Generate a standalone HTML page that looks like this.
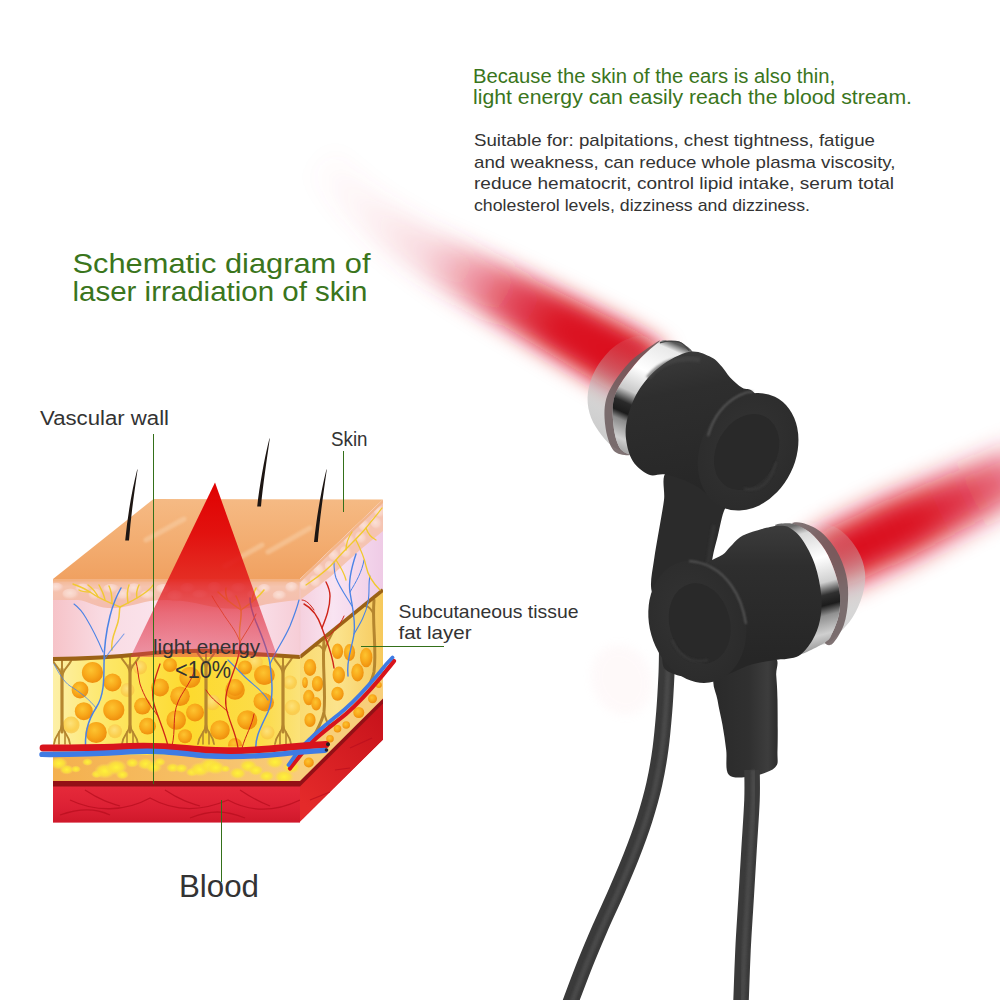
<!DOCTYPE html>
<html lang="en">
<head>
<meta charset="utf-8">
<title>Laser irradiation of skin</title>
<style>
html,body{margin:0;padding:0;background:#fff;}
body{width:1000px;height:1000px;overflow:hidden;position:relative;font-family:"Liberation Sans",sans-serif;}
svg{position:absolute;left:0;top:0;display:block;}
text{font-family:"Liberation Sans",sans-serif;}
.g{fill:#3a751c;}
.d{fill:#333;}
</style>
</head>
<body>
<svg width="1000" height="1000" viewBox="0 0 1000 1000">
<defs>
  <filter id="blur14" x="-30%" y="-60%" width="160%" height="220%"><feGaussianBlur stdDeviation="10.5"/></filter>
  <filter id="blur11" x="-40%" y="-100%" width="180%" height="300%"><feGaussianBlur stdDeviation="13"/></filter>
  <filter id="blur6" x="-30%" y="-30%" width="160%" height="160%"><feGaussianBlur stdDeviation="5"/></filter>
  <filter id="blur2"><feGaussianBlur stdDeviation="1.2"/></filter>
  <linearGradient id="beam1" gradientUnits="userSpaceOnUse" x1="623.5" y1="364.2" x2="298" y2="170">
    <stop offset="0" stop-color="#da0a1a" stop-opacity="1"/>
    <stop offset="0.2" stop-color="#da0a1a" stop-opacity="0.97"/>
    <stop offset="0.345" stop-color="#d9142a" stop-opacity="0.75"/>
    <stop offset="0.48" stop-color="#dc2a44" stop-opacity="0.42"/>
    <stop offset="0.6" stop-color="#e04a60" stop-opacity="0.2"/>
    <stop offset="0.78" stop-color="#e45a70" stop-opacity="0.08"/>
    <stop offset="1" stop-color="#e86a80" stop-opacity="0"/>
  </linearGradient>
  <linearGradient id="beam2" gradientUnits="userSpaceOnUse" x1="0" y1="0" x2="200" y2="0">
    <stop offset="0" stop-color="#da0a1a" stop-opacity="1"/>
    <stop offset="0.4" stop-color="#da0a1a" stop-opacity="0.97"/>
    <stop offset="0.7" stop-color="#d9142a" stop-opacity="0.8"/>
    <stop offset="1" stop-color="#dc2a44" stop-opacity="0.55"/>
  </linearGradient>
  
  <linearGradient id="topG" x1="0" y1="0" x2="0" y2="1">
    <stop offset="0" stop-color="#f5ba84"/><stop offset="0.5" stop-color="#f3ae72"/><stop offset="1" stop-color="#f0a161"/>
  </linearGradient>
  <linearGradient id="dermG" gradientUnits="userSpaceOnUse" x1="53" y1="0" x2="300" y2="0">
    <stop offset="0" stop-color="#f6c3c8"/><stop offset="0.2" stop-color="#f9dbe3"/><stop offset="0.5" stop-color="#fbe6ef"/><stop offset="0.85" stop-color="#f9dce6"/><stop offset="1" stop-color="#f6cdd6"/>
  </linearGradient>
  <linearGradient id="dermS" gradientUnits="userSpaceOnUse" x1="300" y1="0" x2="383" y2="0">
    <stop offset="0" stop-color="#f5d0de"/><stop offset="0.4" stop-color="#f9e4f2"/><stop offset="1" stop-color="#efcbe6"/>
  </linearGradient>
  <linearGradient id="epiG" x1="0" y1="0" x2="0" y2="1">
    <stop offset="0" stop-color="#f3b58f"/><stop offset="0.25" stop-color="#f5c4ae"/><stop offset="1" stop-color="#f4bcae"/>
  </linearGradient>
  <linearGradient id="fatG" gradientUnits="userSpaceOnUse" x1="53" y1="0" x2="300" y2="0">
    <stop offset="0" stop-color="#fdf0a8"/><stop offset="0.22" stop-color="#fde767"/><stop offset="0.55" stop-color="#fdda2e"/><stop offset="0.85" stop-color="#fcdc4a"/><stop offset="1" stop-color="#fbe27a"/>
  </linearGradient>
  <linearGradient id="fatS" gradientUnits="userSpaceOnUse" x1="300" y1="0" x2="383" y2="0">
    <stop offset="0" stop-color="#fadb72"/><stop offset="0.45" stop-color="#fbe38c"/><stop offset="1" stop-color="#f6c95c"/>
  </linearGradient>
  <linearGradient id="lowfatG" gradientUnits="userSpaceOnUse" x1="53" y1="0" x2="300" y2="0">
    <stop offset="0" stop-color="#f4b04e"/><stop offset="0.5" stop-color="#f6bd62"/><stop offset="1" stop-color="#f8cc7c"/>
  </linearGradient>
  <linearGradient id="musG" x1="0" y1="0" x2="0" y2="1">
    <stop offset="0" stop-color="#e62a3a"/><stop offset="0.6" stop-color="#dc2034"/><stop offset="1" stop-color="#cf182a"/>
  </linearGradient>
  <linearGradient id="musS" gradientUnits="userSpaceOnUse" x1="300" y1="800" x2="383" y2="720">
    <stop offset="0" stop-color="#e42a2a"/><stop offset="1" stop-color="#c9141c"/>
  </linearGradient>
  <radialGradient id="glob" cx="0.42" cy="0.38" r="0.65">
    <stop offset="0" stop-color="#fdc430"/><stop offset="0.55" stop-color="#f8a81a"/><stop offset="1" stop-color="#ee8c0c"/>
  </radialGradient>
  <radialGradient id="globp" cx="0.45" cy="0.4" r="0.6">
    <stop offset="0" stop-color="#fde27a"/><stop offset="0.7" stop-color="#fbd050"/><stop offset="1" stop-color="#f8c040" stop-opacity="0.6"/>
  </radialGradient>
  <radialGradient id="yblob" cx="0.5" cy="0.5" r="0.5">
    <stop offset="0" stop-color="#fff23a"/><stop offset="0.6" stop-color="#fbe23a" stop-opacity="0.85"/><stop offset="1" stop-color="#f9d65a" stop-opacity="0"/>
  </radialGradient>
  <radialGradient id="cell" cx="0.45" cy="0.4" r="0.6">
    <stop offset="0" stop-color="#fbe0d6"/><stop offset="0.6" stop-color="#f8d2c5"/><stop offset="1" stop-color="#f5c4b4" stop-opacity="0.2"/>
  </radialGradient>
  <linearGradient id="laserG" gradientUnits="userSpaceOnUse" x1="0" y1="482" x2="0" y2="657">
    <stop offset="0" stop-color="#e00000" stop-opacity="1"/>
    <stop offset="0.3" stop-color="#e10a0a" stop-opacity="0.95"/>
    <stop offset="0.55" stop-color="#e21818" stop-opacity="0.85"/>
    <stop offset="0.75" stop-color="#e02a3a" stop-opacity="0.65"/>
    <stop offset="1" stop-color="#dd3550" stop-opacity="0.45"/>
  </linearGradient>
  <clipPath id="frontClip"><rect x="53" y="579" width="247" height="244"/></clipPath>
  <clipPath id="sideClip"><polygon points="300,579 383,499.5 383,740 300,822"/></clipPath>
  <clipPath id="fatClip"><path d="M53,659 C90,659 125,656 153,653 C190,650 225,650 255,654 L300,657 L300,746 L53,748 Z"/></clipPath>

  
  <linearGradient id="chrome1" gradientUnits="userSpaceOnUse" x1="672" y1="342" x2="622" y2="455">
    <stop offset="0" stop-color="#5a5a5a"/><stop offset="0.06" stop-color="#e9e9e9"/><stop offset="0.3" stop-color="#ffffff"/>
    <stop offset="0.5" stop-color="#c9c9c9"/><stop offset="0.6" stop-color="#2a2a2a"/><stop offset="0.68" stop-color="#1c1c1c"/>
    <stop offset="0.74" stop-color="#8a8a8a"/><stop offset="0.88" stop-color="#cfcfcf"/><stop offset="1" stop-color="#9a9a9a"/>
  </linearGradient>
  <linearGradient id="chrome2" gradientUnits="userSpaceOnUse" x1="800" y1="524" x2="832" y2="645">
    <stop offset="0" stop-color="#6a6a6a"/><stop offset="0.08" stop-color="#d9d9d9"/><stop offset="0.3" stop-color="#ffffff"/>
    <stop offset="0.5" stop-color="#d0d0d0"/><stop offset="0.6" stop-color="#303030"/><stop offset="0.68" stop-color="#1c1c1c"/>
    <stop offset="0.76" stop-color="#909090"/><stop offset="0.9" stop-color="#cfcfcf"/><stop offset="1" stop-color="#a0a0a0"/>
  </linearGradient>
  <linearGradient id="dome1" gradientUnits="userSpaceOnUse" x1="640" y1="345" x2="600" y2="440">
    <stop offset="0" stop-color="#c9c9c9" stop-opacity="0.08"/><stop offset="0.45" stop-color="#bdbdbd" stop-opacity="0.5"/><stop offset="1" stop-color="#c8c8c8" stop-opacity="0.95"/>
  </linearGradient>
  <linearGradient id="dome2" gradientUnits="userSpaceOnUse" x1="815" y1="525" x2="850" y2="630">
    <stop offset="0" stop-color="#d0d0d0" stop-opacity="0.08"/><stop offset="0.45" stop-color="#c4c4c4" stop-opacity="0.5"/><stop offset="1" stop-color="#d2d2d2" stop-opacity="0.95"/>
  </linearGradient>
  <linearGradient id="body1" gradientUnits="userSpaceOnUse" x1="690" y1="350" x2="720" y2="500">
    <stop offset="0" stop-color="#3a3a3a"/><stop offset="0.25" stop-color="#2e2e2e"/><stop offset="1" stop-color="#262626"/>
  </linearGradient>
  <linearGradient id="body2" gradientUnits="userSpaceOnUse" x1="760" y1="525" x2="760" y2="660">
    <stop offset="0" stop-color="#3c3c3c"/><stop offset="0.3" stop-color="#2e2e2e"/><stop offset="1" stop-color="#262626"/>
  </linearGradient>
  <radialGradient id="face" cx="0.45" cy="0.45" r="0.6">
    <stop offset="0" stop-color="#343434"/><stop offset="1" stop-color="#2b2b2b"/>
  </radialGradient>
  <linearGradient id="stemG" x1="0" y1="0" x2="1" y2="0">
    <stop offset="0" stop-color="#2a2a2a"/><stop offset="0.55" stop-color="#303030"/><stop offset="0.85" stop-color="#3d3d3d"/><stop offset="1" stop-color="#2c2c2c"/>
  </linearGradient>

</defs>

<!-- red beams -->
<g id="beams">
  <path d="M665.9,350.5 C661.7,347.7 651.0,339.7 640.8,333.7 C630.5,327.8 619.5,322.2 604.6,314.6 C589.6,307.0 568.9,296.8 551.2,288.0 C533.4,279.2 515.7,270.7 498.0,262.0 C480.2,253.3 460.1,244.0 444.7,236.0 C429.3,228.0 418.4,222.3 405.6,213.9 C392.7,205.5 379.5,196.0 367.7,185.5 C355.9,175.1 340.1,157.2 334.5,151.5 L309.5,174.5 C314.9,180.8 330.3,200.4 342.3,212.5 C354.3,224.5 368.3,236.5 381.4,247.1 C394.6,257.6 406.0,265.5 421.3,275.6 C436.6,285.7 455.9,297.2 473.0,307.6 C490.1,318.0 506.9,327.8 523.8,338.0 C540.7,348.2 560.2,360.2 574.4,368.8 C588.7,377.4 599.0,383.8 609.2,389.5 C619.5,395.1 631.6,400.3 636.1,402.5Z" fill="url(#beam1)" filter="url(#blur14)"/>
  <g transform="translate(843,555) rotate(-25.3)"><polygon points="-30,-27 0,-30 60,-31 200,-24 200,24 60,31 0,30 -30,27" fill="url(#beam2)" filter="url(#blur11)"/></g>
</g>

<g id="skin">
<polygon points="53,579 153.5,499 383,499.5 300,579" fill="url(#topG)"/>
<g stroke="#f8cfa6" stroke-width="5" opacity="0.55" fill="none" stroke-linecap="round" filter="url(#blur2)"><path d="M146,540 L184,519"/><path d="M268,552 L310,528"/><path d="M225,566 L262,545"/></g>
<g clip-path="url(#frontClip)">
<rect x="53" y="579" width="247" height="244" fill="url(#dermG)"/>
<path d="M53,579 H300 V600 C285,601 270,603 255,607 C235,611 215,608 195,603 C180,600 165,599 150,601 C135,604 122,609 108,608 C95,607 88,601 78,600 L53,600 Z" fill="url(#epiG)"/>
<ellipse cx="56.4" cy="587.5" rx="7.3" ry="4.7" fill="url(#cell)"/>
<ellipse cx="70.6" cy="594.1" rx="8.3" ry="5.7" fill="url(#cell)"/>
<ellipse cx="82.9" cy="588.5" rx="7.6" ry="4.9" fill="url(#cell)"/>
<ellipse cx="95.4" cy="594.3" rx="6.9" ry="5.9" fill="url(#cell)"/>
<ellipse cx="111.2" cy="588.7" rx="8.1" ry="4.8" fill="url(#cell)"/>
<ellipse cx="123.5" cy="594.6" rx="8.0" ry="5.8" fill="url(#cell)"/>
<ellipse cx="134.3" cy="588.8" rx="7.7" ry="5.5" fill="url(#cell)"/>
<ellipse cx="147.7" cy="595.0" rx="7.4" ry="4.6" fill="url(#cell)"/>
<ellipse cx="163.5" cy="588.9" rx="7.6" ry="5.0" fill="url(#cell)"/>
<ellipse cx="175.3" cy="595.8" rx="8.3" ry="5.8" fill="url(#cell)"/>
<ellipse cx="187.7" cy="588.0" rx="7.7" ry="5.1" fill="url(#cell)"/>
<ellipse cx="200.2" cy="594.3" rx="8.1" ry="4.6" fill="url(#cell)"/>
<ellipse cx="214.5" cy="587.1" rx="7.1" ry="5.3" fill="url(#cell)"/>
<ellipse cx="226.4" cy="594.9" rx="8.5" ry="4.8" fill="url(#cell)"/>
<ellipse cx="238.8" cy="587.8" rx="7.8" ry="4.9" fill="url(#cell)"/>
<ellipse cx="254.0" cy="594.7" rx="7.1" ry="5.3" fill="url(#cell)"/>
<ellipse cx="264.4" cy="588.8" rx="6.6" ry="4.8" fill="url(#cell)"/>
<ellipse cx="279.5" cy="595.5" rx="7.0" ry="5.0" fill="url(#cell)"/>
<ellipse cx="291.8" cy="587.4" rx="6.6" ry="5.5" fill="url(#cell)"/>
<rect x="53" y="579" width="247" height="2.5" fill="#f3b283"/>
<path d="M53,659 C90,659 125,656 153,653 C190,650 225,650 255,654 L300,657 L300,757 L53,757 Z" fill="url(#fatG)"/>
<g clip-path="url(#fatClip)">
<circle cx="71.2" cy="725.0" r="8.4" fill="url(#globp)"/>
<circle cx="115.0" cy="731.2" r="7.0" fill="url(#globp)"/>
<circle cx="140.0" cy="667.5" r="7.0" fill="url(#globp)"/>
<circle cx="255.0" cy="662.5" r="7.8" fill="url(#globp)"/>
<circle cx="212.5" cy="702.5" r="7.8" fill="url(#globp)"/>
<circle cx="127.5" cy="690.0" r="7.0" fill="url(#globp)"/>
<circle cx="292.5" cy="707.5" r="7.8" fill="url(#globp)"/>
<circle cx="267.5" cy="732.5" r="7.0" fill="url(#globp)"/>
<circle cx="290.0" cy="682.5" r="7.0" fill="url(#globp)"/>
<circle cx="92.5" cy="672.5" r="10.6" fill="url(#glob)"/>
<circle cx="112.5" cy="682.5" r="9.0" fill="url(#glob)"/>
<circle cx="80.0" cy="690.0" r="8.4" fill="url(#glob)"/>
<circle cx="83.8" cy="711.2" r="9.0" fill="url(#glob)"/>
<circle cx="113.8" cy="710.0" r="10.6" fill="url(#glob)"/>
<circle cx="96.2" cy="732.5" r="10.6" fill="url(#glob)"/>
<circle cx="142.5" cy="706.2" r="8.4" fill="url(#glob)"/>
<circle cx="147.5" cy="726.2" r="8.4" fill="url(#glob)"/>
<circle cx="160.0" cy="687.5" r="9.0" fill="url(#glob)"/>
<circle cx="180.0" cy="696.2" r="9.8" fill="url(#glob)"/>
<circle cx="176.2" cy="720.0" r="9.8" fill="url(#glob)"/>
<circle cx="195.0" cy="712.5" r="9.0" fill="url(#glob)"/>
<circle cx="185.0" cy="736.2" r="7.0" fill="url(#glob)"/>
<circle cx="170.0" cy="665.0" r="7.0" fill="url(#glob)"/>
<circle cx="190.0" cy="677.5" r="10.6" fill="url(#glob)"/>
<circle cx="220.0" cy="730.0" r="9.8" fill="url(#glob)"/>
<circle cx="235.0" cy="690.0" r="9.8" fill="url(#glob)"/>
<circle cx="247.5" cy="720.0" r="9.8" fill="url(#glob)"/>
<circle cx="263.8" cy="675.0" r="9.8" fill="url(#glob)"/>
<circle cx="265.0" cy="702.5" r="9.0" fill="url(#glob)"/>
<circle cx="245.0" cy="667.5" r="7.0" fill="url(#glob)"/>
<circle cx="265.0" cy="675.0" r="9.8" fill="url(#glob)"/>
<circle cx="262.5" cy="701.2" r="9.0" fill="url(#glob)"/>
<circle cx="246.2" cy="720.0" r="9.0" fill="url(#glob)"/>
<circle cx="235.0" cy="687.5" r="8.4" fill="url(#glob)"/>
<circle cx="235.0" cy="745.0" r="7.0" fill="url(#glob)"/>
</g>
<g stroke="#b5862f" fill="none" stroke-linecap="round"><path d="M62,669 V732" stroke-width="3.2"/><path d="M62,677 C61,669 56,667 53,661" stroke-width="2"/><path d="M62,677 C63,669 68,667 71,661" stroke-width="2"/><path d="M62,671 V661" stroke-width="2"/><path d="M62,724 C61,734 55,734 54,744" stroke-width="1.8"/><path d="M62,724 C63,734 69,734 70,744" stroke-width="1.8"/><path d="M59,732 V744" stroke-width="1.6"/><path d="M65,732 V744" stroke-width="1.6"/></g>
<g stroke="#b5862f" fill="none" stroke-linecap="round"><path d="M130,665 V732" stroke-width="3.2"/><path d="M130,673 C129,665 124,663 121,657" stroke-width="2"/><path d="M130,673 C131,665 136,663 139,657" stroke-width="2"/><path d="M130,667 V657" stroke-width="2"/><path d="M130,724 C129,734 123,734 122,744" stroke-width="1.8"/><path d="M130,724 C131,734 137,734 138,744" stroke-width="1.8"/><path d="M127,732 V744" stroke-width="1.6"/><path d="M133,732 V744" stroke-width="1.6"/></g>
<g stroke="#b5862f" fill="none" stroke-linecap="round"><path d="M206,660 V732" stroke-width="3.2"/><path d="M206,668 C205,660 200,658 197,652" stroke-width="2"/><path d="M206,668 C207,660 212,658 215,652" stroke-width="2"/><path d="M206,662 V652" stroke-width="2"/><path d="M206,724 C205,734 199,734 198,744" stroke-width="1.8"/><path d="M206,724 C207,734 213,734 214,744" stroke-width="1.8"/><path d="M203,732 V744" stroke-width="1.6"/><path d="M209,732 V744" stroke-width="1.6"/></g>
<g stroke="#b5862f" fill="none" stroke-linecap="round"><path d="M283,666 V732" stroke-width="3.2"/><path d="M283,674 C282,666 277,664 274,658" stroke-width="2"/><path d="M283,674 C284,666 289,664 292,658" stroke-width="2"/><path d="M283,668 V658" stroke-width="2"/><path d="M283,724 C282,734 276,734 275,744" stroke-width="1.8"/><path d="M283,724 C284,734 290,734 291,744" stroke-width="1.8"/><path d="M280,732 V744" stroke-width="1.6"/><path d="M286,732 V744" stroke-width="1.6"/></g>
<path d="M53,659 C90,659 125,656 153,653 C190,650 225,650 255,654 L300,657" fill="none" stroke="#9c6216" stroke-width="4"/>
<rect x="53" y="755" width="247" height="27" fill="url(#lowfatG)"/>
<ellipse cx="58.9" cy="763.4" rx="9.0" ry="6.4" fill="url(#yblob)"/>
<ellipse cx="66.7" cy="769.6" rx="7.2" ry="5.1" fill="url(#yblob)"/>
<ellipse cx="75.9" cy="769.1" rx="5.1" ry="3.7" fill="url(#yblob)"/>
<ellipse cx="87.5" cy="762.1" rx="5.5" ry="3.9" fill="url(#yblob)"/>
<ellipse cx="96.7" cy="774.2" rx="5.7" ry="4.1" fill="url(#yblob)"/>
<ellipse cx="104.8" cy="771.0" rx="10.9" ry="7.8" fill="url(#yblob)"/>
<ellipse cx="116.3" cy="767.3" rx="11.1" ry="7.9" fill="url(#yblob)"/>
<ellipse cx="122.4" cy="774.7" rx="6.7" ry="4.8" fill="url(#yblob)"/>
<ellipse cx="132.3" cy="762.9" rx="6.8" ry="4.9" fill="url(#yblob)"/>
<ellipse cx="145.6" cy="763.9" rx="8.6" ry="6.1" fill="url(#yblob)"/>
<ellipse cx="153.8" cy="767.0" rx="8.4" ry="6.0" fill="url(#yblob)"/>
<ellipse cx="159.7" cy="762.0" rx="6.2" ry="4.4" fill="url(#yblob)"/>
<ellipse cx="172.7" cy="767.8" rx="6.9" ry="4.9" fill="url(#yblob)"/>
<ellipse cx="181.4" cy="768.3" rx="6.8" ry="4.8" fill="url(#yblob)"/>
<ellipse cx="192.0" cy="772.2" rx="6.4" ry="4.6" fill="url(#yblob)"/>
<ellipse cx="199.9" cy="769.4" rx="10.4" ry="7.4" fill="url(#yblob)"/>
<ellipse cx="210.2" cy="765.6" rx="11.1" ry="7.9" fill="url(#yblob)"/>
<ellipse cx="215.8" cy="767.7" rx="9.7" ry="6.9" fill="url(#yblob)"/>
<ellipse cx="225.3" cy="768.8" rx="5.1" ry="3.7" fill="url(#yblob)"/>
<ellipse cx="237.7" cy="773.2" rx="8.5" ry="6.1" fill="url(#yblob)"/>
<ellipse cx="248.3" cy="766.0" rx="9.3" ry="6.6" fill="url(#yblob)"/>
<ellipse cx="255.9" cy="770.3" rx="7.8" ry="5.6" fill="url(#yblob)"/>
<ellipse cx="266.6" cy="776.1" rx="7.9" ry="5.6" fill="url(#yblob)"/>
<ellipse cx="274.9" cy="762.0" rx="9.3" ry="6.7" fill="url(#yblob)"/>
<ellipse cx="284.1" cy="776.9" rx="10.1" ry="7.2" fill="url(#yblob)"/>
<ellipse cx="291.2" cy="767.2" rx="9.1" ry="6.5" fill="url(#yblob)"/>
<rect x="53" y="786" width="247" height="36.5" fill="url(#musG)"/>
<rect x="53" y="781" width="247" height="5.5" fill="#941016"/>
<g stroke="#b80e1e" stroke-width="1.3" fill="none" opacity="0.75"><path d="M70,800 C95,812 125,812 150,798 C175,812 200,812 228,800 C250,812 275,812 300,800"/><path d="M85,790 C100,800 110,803 120,806"/><path d="M165,790 C180,800 190,803 200,806"/><path d="M240,790 C255,800 262,803 270,806"/><path d="M60,815 C80,808 95,808 110,815"/><path d="M190,818 C210,810 225,810 245,818"/></g>
</g>
<g clip-path="url(#sideClip)">
<polygon points="300,579 383,499.5 383,740 300,822" fill="url(#dermS)"/>
<polygon points="300,579 383,499.5 383,531 360,550 330,577 300,600" fill="#f5c4b2"/>
<ellipse cx="304.0" cy="584.2" rx="5.8" ry="6.6" fill="url(#cell)" transform="rotate(-44 304.0 584.2)"/>
<ellipse cx="311.6" cy="582.9" rx="5.8" ry="6.6" fill="url(#cell)" transform="rotate(-44 311.6 576.9)"/>
<ellipse cx="319.2" cy="569.6" rx="5.8" ry="6.6" fill="url(#cell)" transform="rotate(-44 319.2 569.6)"/>
<ellipse cx="326.8" cy="568.3" rx="5.8" ry="6.6" fill="url(#cell)" transform="rotate(-44 326.8 562.3)"/>
<ellipse cx="334.4" cy="555.0" rx="5.8" ry="6.6" fill="url(#cell)" transform="rotate(-44 334.4 555.0)"/>
<ellipse cx="342.0" cy="553.8" rx="5.8" ry="6.6" fill="url(#cell)" transform="rotate(-44 342.0 547.8)"/>
<ellipse cx="349.6" cy="540.5" rx="5.8" ry="6.6" fill="url(#cell)" transform="rotate(-44 349.6 540.5)"/>
<ellipse cx="357.2" cy="539.2" rx="5.8" ry="6.6" fill="url(#cell)" transform="rotate(-44 357.2 533.2)"/>
<ellipse cx="364.8" cy="525.9" rx="5.8" ry="6.6" fill="url(#cell)" transform="rotate(-44 364.8 525.9)"/>
<ellipse cx="372.4" cy="524.6" rx="5.8" ry="6.6" fill="url(#cell)" transform="rotate(-44 372.4 518.6)"/>
<ellipse cx="380.0" cy="511.4" rx="5.8" ry="6.6" fill="url(#cell)" transform="rotate(-44 380.0 511.4)"/>
<path d="M300,579 L383,499.5 L383,503 L300,582.5Z" fill="#f3b58a"/>
<polygon points="300,657 383,590 383,706 300,789" fill="url(#fatS)"/>
<ellipse cx="310.0" cy="667.5" rx="6.2" ry="8.4" fill="url(#glob)"/>
<ellipse cx="317.5" cy="683.8" rx="5.6" ry="7.8" fill="url(#glob)"/>
<ellipse cx="308.8" cy="697.5" rx="5.6" ry="7.8" fill="url(#glob)"/>
<ellipse cx="316.2" cy="703.8" rx="5.0" ry="6.7" fill="url(#glob)"/>
<ellipse cx="310.0" cy="720.0" rx="5.6" ry="7.0" fill="url(#glob)"/>
<ellipse cx="337.5" cy="651.2" rx="5.6" ry="7.8" fill="url(#glob)"/>
<ellipse cx="349.5" cy="652.5" rx="5.6" ry="8.4" fill="url(#glob)"/>
<ellipse cx="366.2" cy="657.5" rx="6.2" ry="9.8" fill="url(#glob)"/>
<ellipse cx="338.8" cy="675.0" rx="6.2" ry="8.4" fill="url(#glob)"/>
<ellipse cx="357.5" cy="672.5" rx="6.2" ry="9.0" fill="url(#glob)"/>
<ellipse cx="337.5" cy="693.8" rx="6.2" ry="7.0" fill="url(#glob)"/>
<ellipse cx="305.0" cy="682.5" rx="2.8" ry="5.6" fill="url(#glob)"/>
<g stroke="#b5862f" fill="none" stroke-linecap="round"><path d="M324,640 C322,665 326,690 324,712 C322,722 318,728 314,736" stroke-width="3"/><path d="M324,712 C326,722 328,724 331,728" stroke-width="2"/><path d="M324,652 C322,646 318,644 316,646" stroke-width="2"/><path d="M324,652 C326,644 330,638 333,632" stroke-width="2"/><path d="M374,600 C372,625 377,650 374,672 C372,680 368,688 364,694" stroke-width="3"/><path d="M374,615 C371,608 368,606 365,606" stroke-width="2"/></g>
<polygon points="289,769 300,758 383,668 383,706 300,789 289,789" fill="#f8cf7a"/>
<circle cx="330.0" cy="738.8" r="3.8" fill="url(#glob)"/>
<circle cx="337.5" cy="728.8" r="3.8" fill="url(#glob)"/>
<circle cx="346.2" cy="725.0" r="3.8" fill="url(#glob)"/>
<circle cx="358.8" cy="712.5" r="5.5" fill="url(#glob)"/>
<circle cx="372.5" cy="698.8" r="4.5" fill="url(#glob)"/>
<circle cx="378.8" cy="685.0" r="3.0" fill="url(#glob)"/>
<circle cx="308.8" cy="762.5" r="5.0" fill="url(#glob)"/>
<circle cx="292.5" cy="772.5" r="4.5" fill="url(#glob)"/>
<path d="M300,657 L383,590" stroke="#9c6216" stroke-width="3.6" fill="none"/>
<polygon points="300,785 383,702.5 383,740 300,822" fill="url(#musS)"/>
<path d="M300,781 L383,698.5 L383,703.5 L300,786.5Z" fill="#941016"/>
<g stroke="#b80e1e" stroke-width="1.2" opacity="0.7" fill="none"><path d="M310,800 L330,792"/><path d="M335,770 L350,768"/><path d="M350,748 L372,738"/><path d="M322,812 L340,790"/></g>
</g>
<path d="M300,582 V657" stroke="#f1c9cf" stroke-width="1" opacity="0.6"/>
<g fill="none" stroke-linecap="round" stroke-linejoin="round">
<g stroke="#f1c92d" stroke-width="1.5" opacity="0.95">
<path d="M112,650 C110,640 116,630 118,622 C120,615 119,610 120,607"/>
<path d="M120,607 C110,603 98,598 90,592 C84,588 78,586 73,584"/><path d="M120,607 C130,602 140,597 146,592 C150,589 152,587 153,585"/>
<path d="M98,597 C96,592 92,588 88,585"/><path d="M105,600 C104,594 101,589 99,585"/><path d="M112,603 C112,596 111,590 109,586"/><path d="M128,603 C127,596 127,590 129,585"/><path d="M137,598 C136,593 137,589 139,585"/><path d="M90,592 C86,592 82,592 79,590"/>
<path d="M240,640 C238,628 242,620 241,610 C240,604 238,600 236,596"/><path d="M241,610 C232,604 224,598 218,592"/><path d="M241,610 C250,604 258,598 264,590"/><path d="M228,601 C226,596 225,592 226,588"/><path d="M252,602 C252,596 254,592 256,588"/>
</g>
<g stroke="#4b83e6" stroke-width="1.5">
<path d="M86,752 C84,735 88,720 96,708 C104,696 104,680 104,664 C104,650 106,632 110,616 C113,604 117,595 121,588"/>
<path d="M103,652 C98,640 92,628 86,618 C82,611 78,607 74,604" stroke-width="1.1"/>
<path d="M104,660 C110,650 118,642 124,634" stroke-width="1.1" opacity="0.7"/>
<path d="M96,708 C90,700 80,692 70,686 C64,682 58,672 54,664" stroke-width="1" opacity="0.8"/>
<path d="M256,752 C254,738 262,725 268,712 C274,698 272,680 270,664 C268,650 262,636 256,622 C252,612 250,604 250,598"/>
<path d="M268,700 C262,690 252,684 244,676 C238,670 232,664 228,660" stroke-width="1.1"/>
<path d="M270,664 C276,650 284,640 290,626 C294,616 297,608 299,600" stroke-width="1.2"/>
</g>
<g stroke="#cf2418" stroke-width="1.3">
<path d="M168,746 C164,730 158,718 154,704 C150,690 156,676 160,664" />
<path d="M158,716 C150,706 144,696 140,684 C138,676 138,668 136,662" stroke-width="1"/>
<path d="M172,746 C176,730 172,716 178,702 C182,692 190,684 194,672" stroke-width="1"/>
<path d="M238,748 C236,732 228,720 226,706 C224,694 230,682 234,670 C238,660 240,650 240,642" />
<path d="M228,712 C220,704 212,700 206,690" stroke-width="1"/>
<path d="M242,748 C246,734 252,726 254,714" stroke-width="1"/>
<path d="M240,642 C236,630 228,622 222,612 C218,606 214,600 212,596" stroke-width="1" stroke="#e0702a"/>
<path d="M240,642 C246,632 252,624 256,614" stroke-width="1" stroke="#e0702a"/>
</g>
</g>
<g fill="none" stroke-linecap="round" stroke-linejoin="round">
<g stroke="#cf2418" stroke-width="1.4"><path d="M334,668 C332,652 326,640 322,628 C318,616 312,608 304,604"/><path d="M322,628 C326,618 330,608 330,596 C330,590 328,586 326,582"/><path d="M326,640 C332,632 340,626 344,616" stroke-width="1"/><path d="M314,610 C310,604 306,600 302,600" stroke-width="1"/></g>
<g stroke="#4b83e6" stroke-width="1.4"><path d="M348,676 C346,660 352,648 354,634 C356,620 352,606 350,592 C348,580 352,566 356,554"/><path d="M352,606 C346,596 340,588 336,578 C334,572 334,566 334,562" stroke-width="1.1"/><path d="M354,634 C360,624 366,614 368,602 C370,592 368,584 370,576" stroke-width="1.1"/><path d="M350,592 C356,582 362,572 364,560" stroke-width="1"/></g>
<g stroke="#f1c92d" stroke-width="1.3"><path d="M306,585 C316,578 326,572 336,560 C346,548 356,540 366,528 C372,520 378,514 382,508"/><path d="M336,560 C340,566 344,572 346,580"/><path d="M356,540 C360,548 364,556 366,566 C368,576 374,584 380,590"/><path d="M346,550 C346,544 348,538 352,532"/><path d="M366,528 C368,534 372,538 376,540"/></g>
</g>
<g fill="none" stroke-linecap="round">
<path d="M290,768.5 C298,758 304,750 312,742 C322,732 334,724 346,714 C360,702 372,688 382,676 C388,668 392,664 394,661" stroke="#d8141c" stroke-width="4.2"/>
<path d="M288.5,765 C296,754 302,746 310,739 C320,729 332,720 344,710 C358,698 370,684 380,672 C386,664 390,660 392.5,657.5" stroke="#3f7be4" stroke-width="3.8"/>
<path d="M43,748 C70,748 100,748 130,746.5 C160,745 180,748 205,750 C235,752 260,750 285,747.5 C300,746 315,745 326,744.5" stroke="#d8141c" stroke-width="6.8"/>
<path d="M42,754.4 C70,754.6 100,753.6 130,751.8 C160,750 180,753.2 205,755.8 C235,757.8 260,756.2 285,753.6 C300,752 315,751 325,750.4" stroke="#3f7be4" stroke-width="5.4"/>
<circle cx="328" cy="744.3" r="2" fill="#222" stroke="none"/><circle cx="326.5" cy="750" r="1.8" fill="#223" stroke="none"/>
</g>
<g fill="#1d1613"><path d="M137.2,469.5 C132,490 127.5,516 125.2,540.5 L129,540.5 C130.8,516 134.5,491 137.6,469.5Z"/><path d="M269.4,438.5 C264,460 259.5,486 257.2,506.5 L261,506.5 C262.8,486 266.8,460 269.8,438.5Z"/><path d="M326.4,469.5 C321,491 316.5,518 314,542 L317.8,542 C319.8,518 323.8,491 326.8,469.5Z"/></g>
<polygon points="215,482.5 130.5,657 277.5,657" fill="url(#laserG)"/>
</g>
<g id="ear">
<ellipse cx="622" cy="680" rx="30" ry="36" fill="#f8c8cc" opacity="0.1" filter="url(#blur6)" transform="rotate(-20 622 680)"/>
<path d="M667.0,650.0 C666.9,654.3 666.9,665.7 666.4,676.0 C665.9,686.3 665.2,700.0 664.2,712.0 C663.2,724.0 662.2,736.0 660.6,748.0 C659.0,760.0 657.0,772.0 654.3,784.0 C651.6,796.0 648.2,808.0 644.4,820.0 C640.6,832.0 636.1,844.0 631.4,856.0 C626.7,868.0 621.5,880.0 616.3,892.0 C611.1,904.0 605.3,916.0 600.1,928.0 C594.9,940.0 589.9,951.7 585.0,964.0 C580.1,976.3 572.9,995.7 570.5,1002.0" fill="none" stroke="#3a3a3a" stroke-width="16" stroke-linecap="round"/>
<path d="M668.5,650.0 C668.4,654.3 668.4,665.7 667.9,676.0 C667.4,686.3 666.7,700.0 665.7,712.0 C664.7,724.0 663.8,736.0 662.1,748.0 C660.5,760.0 658.5,772.0 655.8,784.0 C653.1,796.0 649.7,808.0 645.9,820.0 C642.1,832.0 637.6,844.0 632.9,856.0 C628.2,868.0 623.0,880.0 617.8,892.0 C612.6,904.0 606.8,916.0 601.6,928.0 C596.4,940.0 591.4,951.7 586.5,964.0 C581.6,976.3 574.4,995.7 572.0,1002.0" fill="none" stroke="#4e4e4e" stroke-width="5" opacity="0.8" filter="url(#blur2)"/>
<path d="M666.6,472.0 C660.6,477.0 665.3,490.3 664.0,500.0 C662.7,509.7 660.7,520.0 659.0,530.0 C657.3,540.0 655.3,550.7 654.0,560.0 C652.7,569.3 650.7,578.3 651.0,586.0 C651.3,593.7 654.2,597.0 656.0,606.0 C657.8,615.0 660.3,629.3 662.0,640.0 C663.7,650.7 659.7,665.0 666.0,670.0 C672.3,675.0 693.0,681.7 700.0,670.0 C707.0,658.3 706.0,618.2 708.0,600.0 C710.0,581.8 710.3,571.8 712.0,561.0 C713.7,550.2 715.9,543.6 718.0,535.0 C720.1,526.4 721.9,515.1 724.7,509.2 C727.5,503.4 739.1,506.5 735.0,500.0 C730.9,493.5 711.4,474.7 700.0,470.0 C688.6,465.3 672.6,467.0 666.6,472.0Z" fill="#2b2b2b"/>
<path d="M714,525 C710,548 706,575 703,605" stroke="#3a3a3a" stroke-width="4" fill="none" opacity="0.5" filter="url(#blur2)"/>
<path d="M658.5,342.5 C656.0,337.7 649.7,337.2 645.0,336.5 C640.2,335.7 635.5,336.0 630.0,338.0 C624.5,340.0 617.7,343.2 612.0,348.5 C606.2,353.7 599.5,362.2 595.5,369.5 C591.5,376.7 589.0,384.7 588.0,392.0 C587.0,399.2 587.7,406.5 589.5,413.0 C591.2,419.5 594.7,425.5 598.5,431.0 C602.2,436.5 606.7,442.0 612.0,446.0 C617.2,450.0 626.2,453.0 630.0,455.0 C633.7,457.0 634.9,465.0 634.5,458.0 C634.1,451.0 627.2,424.7 627.7,413.0 C628.2,401.2 632.1,395.5 637.5,387.5 C642.9,379.5 656.5,372.5 660.0,365.0 C663.5,357.5 661.0,347.2 658.5,342.5Z" fill="url(#dome1)"/>
<path d="M658.5,342.5 C654.5,346.2 641.7,356.2 634.5,365.0 C627.2,373.7 618.5,385.0 615.0,395.0 C611.5,405.0 612.7,416.2 613.5,425.0 C614.2,433.7 616.7,442.5 619.5,447.5 C622.2,452.5 628.2,453.7 630.0,455.0 L630.0,455.0 " fill="none"/>
<path d="M658.5,342.5 C655.2,346.0 641.7,356.2 634.5,365.0 C627.2,373.7 618.5,385.0 615.0,395.0 C611.5,405.0 612.7,416.2 613.5,425.0 C614.2,433.7 616.7,442.5 619.5,447.5 C622.2,452.5 631.0,454.5 630.0,455.0 C629.0,455.5 617.6,455.5 613.5,450.5 C609.4,445.5 606.2,434.2 605.2,425.0 C604.2,415.7 603.6,405.2 607.5,395.0 C611.4,384.7 620.7,372.0 628.5,363.5 C636.2,355.0 649.0,347.5 654.0,344.0 C659.0,340.5 661.7,339.0 658.5,342.5Z" fill="#6a5a5c" opacity="0.85"/>
<path d="M658.5,342.5 C652.7,346.5 641.7,356.2 634.5,365.0 C627.2,373.7 618.5,385.0 615.0,395.0 C611.5,405.0 612.7,416.2 613.5,425.0 C614.2,433.7 616.7,442.5 619.5,447.5 C622.2,452.5 626.5,453.0 630.0,455.0 C633.5,457.0 639.5,462.0 640.5,459.5 C641.5,457.0 636.9,447.7 636.0,440.0 C635.1,432.2 633.7,421.7 635.2,413.0 C636.7,404.2 639.6,395.0 645.0,387.5 C650.4,380.0 659.5,373.4 667.5,368.0 C675.5,362.6 690.7,359.5 693.0,355.2 C695.2,351.0 685.0,344.9 681.0,342.5 C677.0,340.1 672.7,341.0 669.0,341.0 C665.2,341.0 664.2,338.5 658.5,342.5Z" fill="url(#chrome1)"/>
<path d="M660.0,342.8 C661.5,342.5 665.5,341.1 669.0,341.1 C672.5,341.1 677.6,341.2 681.0,342.8 C684.4,344.4 687.9,349.4 689.2,350.7" fill="none" stroke="#444" stroke-width="1.2"/>
<path d="M689.6,351.8 C698.1,350.3 705.8,354.8 711.2,357.2 C716.6,359.7 718.8,363.3 722.0,366.7 C725.1,370.1 726.7,374.0 730.1,377.5 C733.5,381.0 738.2,385.3 742.2,387.8 C746.2,390.3 748.5,387.1 754.0,392.5 C759.5,397.9 771.5,405.4 775.0,420.0 C778.5,434.6 780.0,466.2 775.0,480.0 C770.0,493.8 753.0,498.3 745.0,503.0 C737.0,507.7 731.3,507.7 727.0,508.0 C722.7,508.3 724.6,508.7 719.3,504.9 C714.0,501.2 703.8,490.5 695.0,485.5 C686.2,480.4 674.3,476.5 666.6,474.7 C659.0,472.9 654.7,476.9 649.1,474.7 C643.5,472.4 636.7,467.0 632.9,461.2 C629.1,455.3 627.0,446.8 626.1,439.6 C625.2,432.4 625.5,426.1 627.5,418.0 C629.5,409.9 632.9,399.5 638.3,391.0 C643.7,382.4 651.3,373.2 659.9,366.7 C668.4,360.2 681.0,353.4 689.6,351.8Z" fill="url(#body1)"/>
<path d="M648,378 C660,362 680,356 700,360" stroke="#4a4a4a" stroke-width="5" fill="none" opacity="0.6" filter="url(#blur2)"/>
<ellipse cx="748.1" cy="451.8" rx="47.4" ry="61.2" fill="url(#face)" transform="rotate(26 748.1 451.8)"/>
<path d="M708,436 C713,418 724,403 740,395 C745,392.5 749,391.8 753,391.8" fill="none" stroke="#6a6a6a" stroke-width="1.6" opacity="0.85" filter="url(#blur2)"/>
<ellipse cx="746.6" cy="452" rx="30.2" ry="39.9" fill="#292929" transform="rotate(28 746.6 452)"/>
<path d="M776,462 C772,480 760,494 744,488" fill="none" stroke="#3d3d3d" stroke-width="2" opacity="0.7" filter="url(#blur2)"/>
<path d="M715.0,675.0 C710.4,683.3 716.2,691.7 717.5,700.0 C718.8,708.3 721.0,716.7 722.5,725.0 C724.0,733.3 725.2,741.7 726.2,750.0 C727.3,758.3 724.6,770.7 729.0,775.0 C733.4,779.3 744.8,777.2 752.5,776.0 C760.2,774.8 770.8,771.8 775.0,767.5 C779.2,763.2 777.1,761.2 777.5,750.0 C777.9,738.8 777.7,712.5 777.5,700.0 C777.3,687.5 776.7,682.1 776.2,675.0 C775.8,667.9 780.2,661.7 775.0,657.5 C769.8,653.3 755.0,647.1 745.0,650.0 C735.0,652.9 719.6,666.7 715.0,675.0Z" fill="url(#stemG)"/>
<path d="M752.0,770.0 C752.0,775.0 752.5,786.7 752.0,800.0 C751.5,813.3 750.0,833.3 749.0,850.0 C748.0,866.7 747.0,883.3 746.0,900.0 C745.0,916.7 743.8,933.0 743.0,950.0 C742.2,967.0 741.3,993.3 741.0,1002.0" fill="none" stroke="#3a3a3a" stroke-width="15.5" />
<path d="M753.5,770.0 C753.5,775.0 754.0,786.7 753.5,800.0 C753.0,813.3 751.5,833.3 750.5,850.0 C749.5,866.7 748.5,883.3 747.5,900.0 C746.5,916.7 745.3,933.0 744.5,950.0 C743.7,967.0 742.8,993.3 742.5,1002.0" fill="none" stroke="#4e4e4e" stroke-width="5" opacity="0.8" filter="url(#blur2)"/>
<path d="M795.0,522.5 C797.1,519.4 807.5,520.0 815.0,521.2 C822.5,522.5 832.9,525.2 840.0,530.0 C847.1,534.8 853.3,542.9 857.5,550.0 C861.7,557.1 864.2,565.0 865.0,572.5 C865.8,580.0 864.6,587.5 862.5,595.0 C860.4,602.5 856.7,610.8 852.5,617.5 C848.3,624.2 841.9,630.6 837.5,635.0 C833.1,639.4 830.4,642.9 826.2,643.8 C822.1,644.6 813.3,648.1 812.5,640.0 C811.7,631.9 820.8,607.5 821.2,595.0 C821.7,582.5 818.1,574.2 815.0,565.0 C811.9,555.8 805.8,547.1 802.5,540.0 C799.2,532.9 792.9,525.6 795.0,522.5Z" fill="url(#dome2)"/>
<path d="M792.5,523.8 C793.8,525.3 804.6,528.1 810.0,532.5 C815.4,536.9 820.8,543.3 825.0,550.0 C829.2,556.7 832.5,565.0 835.0,572.5 C837.5,580.0 839.4,587.9 840.0,595.0 C840.6,602.1 840.0,608.8 838.8,615.0 C837.5,621.2 834.8,627.9 832.5,632.5 C830.2,637.1 825.0,640.6 825.0,642.5 C825.0,644.4 829.4,646.7 832.5,643.8 C835.6,640.8 841.2,632.3 843.8,625.0 C846.3,617.7 847.6,608.3 848.0,600.0 C848.4,591.7 848.2,583.3 846.2,575.0 C844.3,566.7 840.6,557.3 836.2,550.0 C831.9,542.7 825.6,535.8 820.0,531.2 C814.4,526.8 807.1,524.2 802.5,523.0 C797.9,521.8 791.2,522.2 792.5,523.8Z" fill="#6a5a5c" opacity="0.85"/>
<path d="M792.5,523.8 C798.3,525.0 804.6,528.1 810.0,532.5 C815.4,536.9 820.8,543.3 825.0,550.0 C829.2,556.7 832.5,565.0 835.0,572.5 C837.5,580.0 839.4,587.9 840.0,595.0 C840.6,602.1 840.0,608.8 838.8,615.0 C837.5,621.2 834.8,627.9 832.5,632.5 C830.2,637.1 831.2,638.5 825.0,642.5 C818.8,646.5 798.1,656.7 795.0,656.2 C791.9,655.8 803.3,646.0 806.5,640.0 C809.7,634.0 812.5,627.5 814.0,620.0 C815.5,612.5 816.1,604.2 815.2,595.0 C814.4,585.8 812.1,573.8 809.0,565.0 C805.9,556.2 800.5,548.4 796.5,542.5 C792.5,536.6 788.6,532.4 785.0,529.5 C781.4,526.6 773.8,526.0 775.0,525.0 C776.2,524.0 786.7,522.5 792.5,523.8Z" fill="url(#chrome2)"/>
<path d="M707.5,562.5 C712.9,559.1 718.8,557.3 722.5,554.8 C726.2,552.2 727.1,549.9 730.0,547.0 C732.9,544.1 736.2,539.8 740.0,537.2 C743.8,534.7 747.5,533.5 752.5,531.8 C757.5,530.0 765.4,528.0 770.0,527.0 C774.6,526.0 776.7,525.6 780.0,525.8 C783.3,525.9 786.2,525.6 790.0,528.0 C793.8,530.4 798.3,533.8 802.5,540.0 C806.7,546.2 811.9,555.8 815.0,565.0 C818.1,574.2 820.4,585.8 821.2,595.0 C822.1,604.2 821.5,612.5 820.0,620.0 C818.5,627.5 815.8,634.2 812.5,640.0 C809.2,645.8 804.2,651.9 800.0,655.0 C795.8,658.1 791.7,657.9 787.5,658.8 C783.3,659.6 781.2,659.0 775.0,660.0 C768.8,661.0 758.3,662.5 750.0,665.0 C741.7,667.5 733.3,673.3 725.0,675.0 C716.7,676.7 707.9,683.3 700.0,675.0 C692.1,666.7 679.2,641.7 677.5,625.0 C675.8,608.3 685.0,585.4 690.0,575.0 C695.0,564.6 702.1,565.9 707.5,562.5Z" fill="url(#body2)"/>
<ellipse cx="697.3" cy="621.9" rx="47.8" ry="62" fill="url(#face)" transform="rotate(-16 697.3 621.9)"/>
<path d="M689,561 C705,562 720,570 731,585 C739,596 744,610 746,624" fill="none" stroke="#6a6a6a" stroke-width="1.6" opacity="0.85" filter="url(#blur2)"/>
<ellipse cx="699.7" cy="623.3" rx="30.2" ry="40.7" fill="#292929" transform="rotate(-14.5 699.7 623.3)"/>
<path d="M672,640 C678,655 692,664 708,660" fill="none" stroke="#3d3d3d" stroke-width="2" opacity="0.7" filter="url(#blur2)"/>
</g>

<!-- text -->
<g id="texts">
  <text class="g" x="473" y="82.6" font-size="19.5" textLength="362" lengthAdjust="spacingAndGlyphs">Because the skin of the ears is also thin,</text>
  <text class="g" x="473" y="103.7" font-size="19.5" textLength="439" lengthAdjust="spacingAndGlyphs">light energy can easily reach the blood stream.</text>
  <text class="d" x="474" y="146.4" font-size="16.6" textLength="401" lengthAdjust="spacingAndGlyphs">Suitable for: palpitations, chest tightness, fatigue</text>
  <text class="d" x="474" y="167.8" font-size="16.6" textLength="421.5" lengthAdjust="spacingAndGlyphs">and weakness, can reduce whole plasma viscosity,</text>
  <text class="d" x="474" y="189.2" font-size="16.6" textLength="420" lengthAdjust="spacingAndGlyphs">reduce hematocrit, control lipid intake, serum total</text>
  <text class="d" x="474" y="210.5" font-size="16.6" textLength="336" lengthAdjust="spacingAndGlyphs">cholesterol levels, dizziness and dizziness.</text>

  <text class="g" x="72.5" y="273" font-size="27.5" textLength="298" lengthAdjust="spacingAndGlyphs">Schematic diagram of</text>
  <text class="g" x="72.5" y="301" font-size="27.5" textLength="295" lengthAdjust="spacingAndGlyphs">laser irradiation of skin</text>

  <text class="d" x="40" y="425.2" font-size="20" textLength="129" lengthAdjust="spacingAndGlyphs">Vascular wall</text>
  <text class="d" x="331" y="445.6" font-size="20" textLength="36.5" lengthAdjust="spacingAndGlyphs">Skin</text>
  <text class="d" x="398.5" y="617.5" font-size="19" textLength="180" lengthAdjust="spacingAndGlyphs">Subcutaneous tissue</text>
  <text class="d" x="398.5" y="638.5" font-size="19" textLength="73" lengthAdjust="spacingAndGlyphs">fat layer</text>
  <text class="d" x="153" y="653.5" font-size="20" textLength="107" lengthAdjust="spacingAndGlyphs">light energy</text>
  <text class="d" x="175" y="677.8" font-size="24" textLength="56" lengthAdjust="spacingAndGlyphs">&lt;10%</text>
  <text class="d" x="179" y="896.8" font-size="31.5" textLength="80" lengthAdjust="spacingAndGlyphs">Blood</text>
</g>

<!-- green leader lines -->
<g stroke="#34701a" stroke-width="1" fill="none">
  <line x1="153.5" y1="434" x2="153.5" y2="784"/>
  <line x1="343.5" y1="451" x2="343.5" y2="512"/>
  <line x1="361" y1="646.5" x2="444" y2="646.5"/>
  <line x1="221.5" y1="800" x2="221.5" y2="882"/>
</g>
</svg>
</body>
</html>
